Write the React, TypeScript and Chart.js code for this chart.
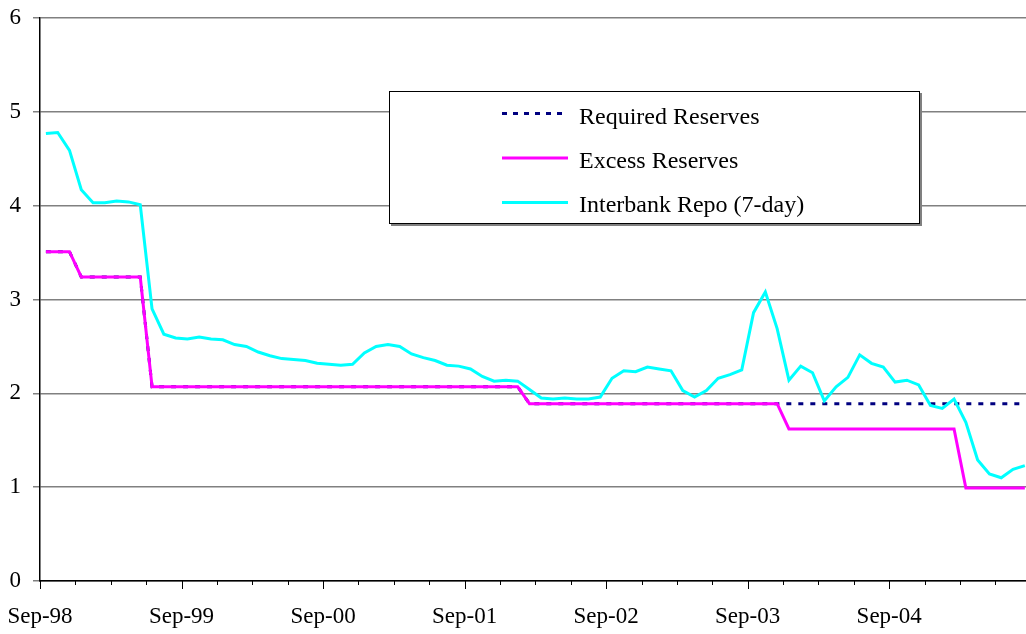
import React, { useEffect, useRef } from "react";
import { Chart, registerables } from "chart.js";
Chart.register(...registerables);

// Monthly categories (Sep-98 .. Aug-05)
const months = [
  "Sep-98", "Oct-98", "Nov-98", "Dec-98", "Jan-99", "Feb-99", "Mar-99", "Apr-99", "May-99", "Jun-99", "Jul-99", "Aug-99",
  "Sep-99", "Oct-99", "Nov-99", "Dec-99", "Jan-00", "Feb-00", "Mar-00", "Apr-00", "May-00", "Jun-00", "Jul-00", "Aug-00",
  "Sep-00", "Oct-00", "Nov-00", "Dec-00", "Jan-01", "Feb-01", "Mar-01", "Apr-01", "May-01", "Jun-01", "Jul-01", "Aug-01",
  "Sep-01", "Oct-01", "Nov-01", "Dec-01", "Jan-02", "Feb-02", "Mar-02", "Apr-02", "May-02", "Jun-02", "Jul-02", "Aug-02",
  "Sep-02", "Oct-02", "Nov-02", "Dec-02", "Jan-03", "Feb-03", "Mar-03", "Apr-03", "May-03", "Jun-03", "Jul-03", "Aug-03",
  "Sep-03", "Oct-03", "Nov-03", "Dec-03", "Jan-04", "Feb-04", "Mar-04", "Apr-04", "May-04", "Jun-04", "Jul-04", "Aug-04",
  "Sep-04", "Oct-04", "Nov-04", "Dec-04", "Jan-05", "Feb-05", "Mar-05", "Apr-05", "May-05", "Jun-05", "Jul-05", "Aug-05",
];

const yearTickLabels = ["Sep-98", "Sep-99", "Sep-00", "Sep-01", "Sep-02", "Sep-03", "Sep-04"];
const yTickValues = [0, 1, 2, 3, 4, 5, 6];
const seriesNames = ["Required Reserves", "Excess Reserves", "Interbank Repo (7-day)"];

const requiredReserves = [
  3.51, 3.51, 3.51, 3.24, 3.24, 3.24, 3.24, 3.24, 3.24, 2.07, 2.07, 2.07,
  2.07, 2.07, 2.07, 2.07, 2.07, 2.07, 2.07, 2.07, 2.07, 2.07, 2.07, 2.07,
  2.07, 2.07, 2.07, 2.07, 2.07, 2.07, 2.07, 2.07, 2.07, 2.07, 2.07, 2.07,
  2.07, 2.07, 2.07, 2.07, 2.07, 1.89, 1.89, 1.89, 1.89, 1.89, 1.89, 1.89,
  1.89, 1.89, 1.89, 1.89, 1.89, 1.89, 1.89, 1.89, 1.89, 1.89, 1.89, 1.89,
  1.89, 1.89, 1.89, 1.89, 1.89, 1.89, 1.89, 1.89, 1.89, 1.89, 1.89, 1.89,
  1.89, 1.89, 1.89, 1.89, 1.89, 1.89, 1.89, 1.89, 1.89, 1.89, 1.89, 1.89,
];

const excessReserves = [
  3.51, 3.51, 3.51, 3.24, 3.24, 3.24, 3.24, 3.24, 3.24, 2.07, 2.07, 2.07,
  2.07, 2.07, 2.07, 2.07, 2.07, 2.07, 2.07, 2.07, 2.07, 2.07, 2.07, 2.07,
  2.07, 2.07, 2.07, 2.07, 2.07, 2.07, 2.07, 2.07, 2.07, 2.07, 2.07, 2.07,
  2.07, 2.07, 2.07, 2.07, 2.07, 1.89, 1.89, 1.89, 1.89, 1.89, 1.89, 1.89,
  1.89, 1.89, 1.89, 1.89, 1.89, 1.89, 1.89, 1.89, 1.89, 1.89, 1.89, 1.89,
  1.89, 1.89, 1.89, 1.62, 1.62, 1.62, 1.62, 1.62, 1.62, 1.62, 1.62, 1.62,
  1.62, 1.62, 1.62, 1.62, 1.62, 1.62, 0.99, 0.99, 0.99, 0.99, 0.99, 0.99,
];

const interbankRepo = [
  4.77, 4.78, 4.59, 4.17, 4.03, 4.03, 4.05, 4.04, 4.01, 2.90, 2.63, 2.59,
  2.58, 2.60, 2.58, 2.57, 2.52, 2.50, 2.44, 2.40, 2.37, 2.36, 2.35, 2.32,
  2.31, 2.30, 2.31, 2.43, 2.50, 2.52, 2.50, 2.42, 2.38, 2.35, 2.30, 2.29,
  2.26, 2.18, 2.13, 2.14, 2.13, 2.04, 1.95, 1.94, 1.95, 1.94, 1.94, 1.96,
  2.16, 2.24, 2.23, 2.28, 2.26, 2.24, 2.03, 1.96, 2.03, 2.16, 2.20, 2.25,
  2.86, 3.08, 2.69, 2.14, 2.29, 2.22, 1.92, 2.07, 2.17, 2.41, 2.32, 2.28,
  2.12, 2.14, 2.09, 1.87, 1.84, 1.94, 1.69, 1.29, 1.14, 1.10, 1.19, 1.23,
];

const FONT_FAMILY = '"Liberation Serif", "Times New Roman", serif';
const COLORS = ["#000080", "#FF00FF", "#00FFFF"];

// each monthly observation sits mid-month; ticks at month starts
const toPoints = (vals: number[]) => vals.map((v, i) => ({ x: i + 0.5, y: v }));
const quarterTicks = months.map((_, i) => i).filter((i) => i % 3 === 0);

const extrasPlugin = {
  id: "extras",
  afterDraw(chart: any) {
    const { ctx, chartArea } = chart;
    const xs = chart.scales.x;
    ctx.save();
    // x tick marks
    ctx.strokeStyle = "#000";
    ctx.lineWidth = 1;
    quarterTicks.forEach((v) => {
      const px = Math.round(xs.getPixelForValue(v)) + 0.5;
      const major = yearTickLabels.includes(months[v]);
      ctx.beginPath();
      ctx.moveTo(px, chartArea.bottom);
      ctx.lineTo(px, chartArea.bottom + (major ? 8 : 4));
      ctx.stroke();
    });

    // legend box
    const bx = 389, by = 91, bw = 531, bh = 133;
    ctx.fillStyle = "#808080";
    ctx.fillRect(bx + 2, by + 2, bw, bh);
    ctx.fillStyle = "#fff";
    ctx.fillRect(bx, by, bw, bh);
    ctx.strokeStyle = "#000";
    ctx.lineWidth = 1;
    ctx.strokeRect(bx + 0.5, by + 0.5, bw - 1, bh - 1);

    const rowsLine = [113.5, 158, 202.5];
    const rowsBase = [123.5, 167.5, 211.5];
    seriesNames.forEach((name, k) => {
      ctx.beginPath();
      ctx.strokeStyle = COLORS[k];
      ctx.lineWidth = 3;
      ctx.setLineDash(k === 0 ? [5, 6] : []);
      ctx.moveTo(502, rowsLine[k]);
      ctx.lineTo(568, rowsLine[k]);
      ctx.stroke();
      ctx.setLineDash([]);
      ctx.fillStyle = "#000";
      ctx.font = `24px ${FONT_FAMILY}`;
      ctx.textAlign = "left";
      ctx.textBaseline = "alphabetic";
      ctx.fillText(name, 579, rowsBase[k]);
    });
    ctx.restore();
  },
};

export default function App() {
  const ref = useRef<HTMLCanvasElement | null>(null);

  useEffect(() => {
    if (!ref.current) return;
    const chart = new Chart(ref.current, {
      type: "line",
      data: {
        datasets: [
          {
            label: seriesNames[0],
            data: toPoints(requiredReserves),
            borderColor: COLORS[0],
            borderWidth: 3,
            borderDash: [5, 7],
            pointRadius: 0,
            tension: 0,
            order: 3,
          },
          {
            label: seriesNames[1],
            data: toPoints(excessReserves),
            borderColor: COLORS[1],
            borderWidth: 3,
            pointRadius: 0,
            tension: 0,
            order: 2,
          },
          {
            label: seriesNames[2],
            data: toPoints(interbankRepo),
            borderColor: COLORS[2],
            borderWidth: 3,
            pointRadius: 0,
            tension: 0,
            order: 1,
          },
        ],
      },
      options: {
        responsive: false,
        animation: false,
        layout: { padding: { top: 18, right: 0, left: 0, bottom: 0 } },
        plugins: { legend: { display: false }, tooltip: { enabled: false } },
        scales: {
          x: {
            type: "linear",
            min: 0,
            max: 83.6,
            grid: { display: false, drawTicks: false },
            border: { display: true, color: "#000", width: 1.5 },
            afterBuildTicks: (scale: any) => {
              scale.ticks = quarterTicks.map((v) => ({ value: v }));
            },
            afterFit: (scale: any) => {
              scale.height = 53;
              scale.paddingLeft = 0;
              scale.paddingRight = 0;
              scale.paddingTop = 0;
              scale.paddingBottom = 0;
            },
            ticks: {
              autoSkip: false,
              maxRotation: 0,
              padding: 22,
              color: "#000",
              font: { family: FONT_FAMILY, size: 23 },
              callback: (v: any) => {
                const lab = months[Number(v)];
                return lab && yearTickLabels.includes(lab) ? lab : "";
              },
            },
          },
          y: {
            min: 0,
            max: 6,
            afterBuildTicks: (scale: any) => {
              scale.ticks = yTickValues.map((v) => ({ value: v }));
            },
            afterFit: (scale: any) => {
              scale.width = 40;
              scale.paddingLeft = 0;
              scale.paddingRight = 0;
              scale.paddingTop = 0;
              scale.paddingBottom = 0;
            },
            grid: { color: "#808080", lineWidth: 1.5, tickLength: 7 },
            border: { display: true, color: "#000", width: 1.5 },
            ticks: {
              padding: 12,
              color: "#000",
              font: { family: FONT_FAMILY, size: 23 },
            },
          },
        },
      },
      plugins: [extrasPlugin],
    } as any);
    return () => chart.destroy();
  }, []);

  return (
    <div style={{ position: "absolute", left: 0, top: 0, width: 1026, height: 634, background: "#fff" }}>
      <canvas ref={ref} width={1026} height={634} style={{ display: "block" }} />
    </div>
  );
}
